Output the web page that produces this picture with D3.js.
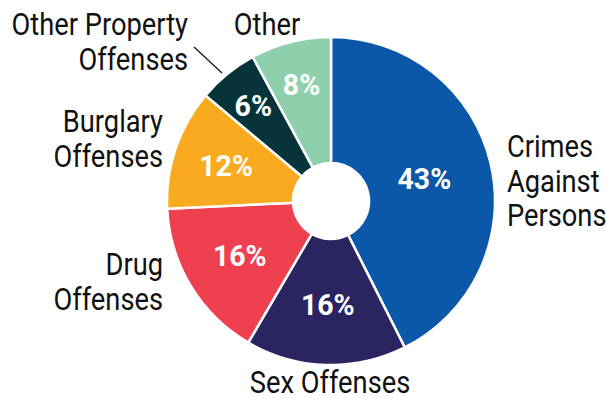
<!DOCTYPE html>
<html><head><meta charset="utf-8">
<script src="https://cdn.jsdelivr.net/npm/d3@7"></script>
<style>body{margin:0;background:#fff}</style>
</head><body>
<svg id="c" width="607" height="399"></svg>
<script>
const categories = ["Crimes Against Persons","Sex Offenses","Drug Offenses","Burglary Offenses","Other Property Offenses","Other"];
const values = [43,16,16,12,6,8];
const colors = ["#0b57a8","#2a2460","#ef4050","#f9aa1f","#06343a","#8ecfac"];

const svg = d3.select("#c");
const cx = 331, cy = 201, R = 164, r0 = 38;
const g = svg.append("g").attr("transform",`translate(${cx},${cy})`);
const pie = d3.pie().sort(null).value(d=>d.v);
const arcs = pie(categories.map((c,i)=>({c,v:values[i],col:colors[i]})));
const arc = d3.arc().innerRadius(r0).outerRadius(R);
g.selectAll("path").data(arcs).join("path")
 .attr("d",arc).attr("fill",d=>d.data.col).attr("stroke","#fff").attr("stroke-width",2.5);

const font = "Roboto, 'DejaVu Sans Condensed', sans-serif";
// percentage labels
const pctR = [0.585,0.634,0.65,0.675,0.75,0.73];
g.selectAll("text.p").data(arcs).join("text").attr("class","p")
 .attr("transform",(d,i)=>{const a=(d.startAngle+d.endAngle)/2; const rr=R*pctR[i]; return `translate(${Math.sin(a)*rr},${-Math.cos(a)*rr}) scale(0.95,1)`;})
 .attr("text-anchor","middle").attr("dy","0.34em")
 .attr("fill","#fff").attr("font-family",font).attr("font-weight","bold").attr("font-size",30)
 .text(d=>d.data.v+"%");

// category labels (baseline positions)
const labels = [
 {lines:["Crimes","Against","Persons"], x:507, y:157, anchor:"start"},
 {lines:["Sex Offenses"], x:330, y:393, anchor:"middle"},
 {lines:["Drug","Offenses"], x:163, y:275, anchor:"end"},
 {lines:["Burglary","Offenses"], x:163, y:132, anchor:"end"},
 {lines:["Other Property","Offenses"], x:188, y:35, anchor:"end"},
 {lines:["Other"], x:267, y:35, anchor:"middle"}
];
const lh = 34.5;
labels.forEach(l=>{
  l.lines.forEach((s,j)=>{
    svg.append("text").attr("transform",`translate(${l.x},${l.y+j*lh}) scale(0.88,1)`)
     .attr("text-anchor",l.anchor).attr("font-family",font)
     .attr("font-size",31).attr("fill","#111").text(s);
  });
});
svg.append("line").attr("x1",194).attr("y1",47).attr("x2",222).attr("y2",73).attr("stroke","#111").attr("stroke-width",1.2);
</script>
</body></html>
